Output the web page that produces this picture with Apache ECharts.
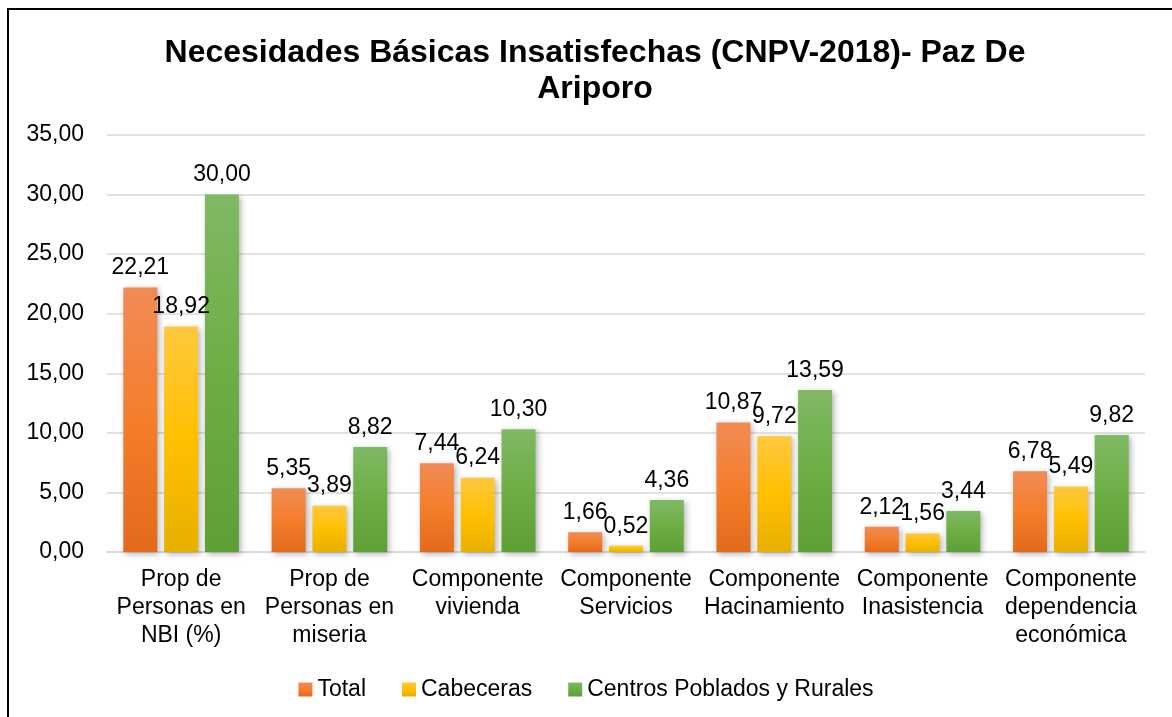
<!DOCTYPE html>
<html>
<head>
<meta charset="utf-8">
<script src="https://cdn.jsdelivr.net/npm/echarts@6/dist/echarts.min.js"></script>
<style>
  html, body { margin: 0; padding: 0; background: #fff; }
  #main { width: 1172px; height: 717px; }
</style>
</head>
<body>
<div id="main"></div>
<script>
const categories = [
  'Prop de\nPersonas en\nNBI (%)',
  'Prop de\nPersonas en\nmiseria',
  'Componente\nvivienda',
  'Componente\nServicios',
  'Componente\nHacinamiento',
  'Componente\nInasistencia',
  'Componente\ndependencia\neconómica'
];
const total = [22.21, 5.35, 7.44, 1.66, 10.87, 2.12, 6.78];
const cabeceras = [18.92, 3.89, 6.24, 0.52, 9.72, 1.56, 5.49];
const rurales = [30.00, 8.82, 10.30, 4.36, 13.59, 3.44, 9.82];

const fmt = (v) => v.toFixed(2).replace('.', ',');
const font = 'Liberation Sans, Arial, sans-serif';

function grad(top, mid, bottom) {
  return new echarts.graphic.LinearGradient(0, 0, 0, 1, [
    { offset: 0, color: top },
    { offset: 0.5, color: mid },
    { offset: 1, color: bottom }
  ]);
}

function bar(name, data, color) {
  return {
    name: name,
    type: 'bar',
    data: data,
    barWidth: 34,
    barGap: '20%',
    itemStyle: {
      color: color,
      shadowBlur: 6,
      shadowColor: 'rgba(0,0,0,0.3)',
      shadowOffsetX: 2,
      shadowOffsetY: 2
    },
    label: {
      show: true,
      position: 'top',
      distance: 8,
      color: '#000',
      fontSize: 23,
      fontFamily: font,
      formatter: (p) => fmt(p.value)
    }
  };
}

const myChart = echarts.init(document.getElementById('main'));

const option = {
  animation: false,
  title: {
    text: 'Necesidades Básicas Insatisfechas (CNPV-2018)- Paz De\nAriporo',
    left: 590,
    textAlign: 'center',
    top: 30,
    textStyle: {
      fontFamily: font,
      fontWeight: 'bold',
      fontSize: 32,
      lineHeight: 36,
      color: '#000'
    }
  },
  graphic: [{
    type: 'rect',
    shape: { x: 8, y: 9, width: 1200, height: 800 },
    style: { fill: 'none', stroke: '#000', lineWidth: 2 },
    silent: true
  }],
  legend: {
    data: ['Total', 'Cabeceras', 'Centros Poblados y Rurales'],
    top: 673,
    left: 'center',
    icon: 'rect',
    itemWidth: 14,
    itemHeight: 14,
    itemGap: 36,
    textStyle: { fontFamily: font, fontSize: 23, color: '#000' }
  },
  grid: { left: 107, right: 27, top: 135, bottom: 165, containLabel: false },
  xAxis: {
    type: 'category',
    data: categories,
    axisTick: { show: false },
    axisLine: { lineStyle: { color: '#D9D9D9', width: 2 } },
    axisLabel: {
      interval: 0,
      margin: 14,
      color: '#000',
      fontFamily: font,
      fontSize: 23,
      lineHeight: 28
    }
  },
  yAxis: {
    type: 'value',
    min: 0,
    max: 35,
    interval: 5,
    axisLabel: {
      margin: 23,
      color: '#000',
      fontFamily: font,
      fontSize: 23,
      formatter: (v) => fmt(v)
    },
    splitLine: { lineStyle: { color: '#D9D9D9', width: 1.5 } }
  },
  series: [
    bar('Total', total, grad('#F18C55', '#F47E2C', '#E36A1C')),
    bar('Cabeceras', cabeceras, grad('#FFC83F', '#FFC000', '#E6B000')),
    bar('Centros Poblados y Rurales', rurales, grad('#80B964', '#6DAE44', '#5FA036'))
  ]
};

myChart.setOption(option);
</script>
</body>
</html>
